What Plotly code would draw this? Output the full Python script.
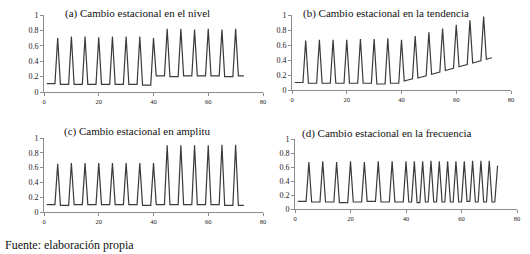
import plotly.graph_objects as go

t = list(range(1, 74))

nivel = [0.11, 0.11, 0.11, 0.11, 0.70,
         0.10, 0.10, 0.10, 0.10, 0.72,
         0.10, 0.10, 0.10, 0.10, 0.72,
         0.10, 0.10, 0.10, 0.10, 0.71,
         0.10, 0.10, 0.10, 0.10, 0.72,
         0.10, 0.10, 0.10, 0.10, 0.72,
         0.10, 0.10, 0.10, 0.10, 0.72,
         0.09, 0.09, 0.09, 0.09, 0.70,
         0.21, 0.21, 0.21, 0.21, 0.82,
         0.20, 0.20, 0.20, 0.20, 0.82,
         0.21, 0.21, 0.21, 0.21, 0.81,
         0.21, 0.21, 0.21, 0.21, 0.82,
         0.21, 0.21, 0.21, 0.21, 0.81,
         0.20, 0.20, 0.20, 0.20, 0.82,
         0.21, 0.21, 0.21]

tendencia = [0.10, 0.10, 0.10, 0.10, 0.66,
             0.09, 0.09, 0.09, 0.09, 0.67,
             0.09, 0.09, 0.09, 0.09, 0.67,
             0.09, 0.09, 0.09, 0.09, 0.67,
             0.09, 0.09, 0.09, 0.09, 0.68,
             0.09, 0.09, 0.09, 0.09, 0.68,
             0.08, 0.08, 0.08, 0.08, 0.69,
             0.09, 0.09, 0.09, 0.09, 0.67,
             0.12, 0.13, 0.14, 0.15, 0.72,
             0.16, 0.17, 0.18, 0.19, 0.77,
             0.21, 0.22, 0.23, 0.24, 0.82,
             0.26, 0.27, 0.28, 0.29, 0.87,
             0.31, 0.32, 0.33, 0.34, 0.93,
             0.36, 0.37, 0.38, 0.39, 0.98,
             0.41, 0.42, 0.43]

amplitud = [0.10, 0.10, 0.10, 0.10, 0.65,
            0.09, 0.09, 0.09, 0.09, 0.66,
            0.10, 0.10, 0.10, 0.10, 0.66,
            0.10, 0.10, 0.10, 0.10, 0.66,
            0.10, 0.10, 0.10, 0.10, 0.66,
            0.10, 0.10, 0.10, 0.10, 0.66,
            0.10, 0.10, 0.10, 0.10, 0.66,
            0.09, 0.09, 0.09, 0.09, 0.66,
            0.10, 0.10, 0.10, 0.10, 0.90,
            0.10, 0.10, 0.10, 0.10, 0.90,
            0.10, 0.10, 0.10, 0.10, 0.90,
            0.10, 0.10, 0.10, 0.10, 0.90,
            0.10, 0.10, 0.10, 0.10, 0.91,
            0.09, 0.09, 0.09, 0.09, 0.91,
            0.09, 0.09, 0.09]

frecuencia = [0.11, 0.11, 0.11, 0.11, 0.67,
              0.10, 0.10, 0.10, 0.10, 0.68,
              0.10, 0.10, 0.10, 0.10, 0.67,
              0.09, 0.09, 0.09, 0.09, 0.68,
              0.10, 0.10, 0.10, 0.10, 0.67,
              0.11, 0.11, 0.11, 0.11, 0.68,
              0.10, 0.10, 0.10, 0.10, 0.68,
              0.10, 0.10, 0.10, 0.10, 0.68,
              0.10, 0.10, 0.68,
              0.09, 0.09, 0.68,
              0.10, 0.10, 0.69,
              0.10, 0.10, 0.68,
              0.10, 0.10, 0.68,
              0.10, 0.10, 0.68,
              0.10, 0.10, 0.68,
              0.11, 0.11, 0.69,
              0.10, 0.10, 0.69,
              0.10, 0.10, 0.69,
              0.10, 0.10, 0.62]

titles = ["(a) Cambio estacional en el nivel",
          "(b) Cambio estacional en la tendencia",
          "(c) Cambio estacional en amplitu",
          "(d) Cambio estacional en la frecuencia"]
series = [nivel, tendencia, amplitud, frecuencia]

x_ticks = [0, 20, 40, 60, 80]
y_ticks = [0, 0.2, 0.4, 0.6, 0.8, 1]
y_tick_text = ["0", "0.2", "0.4", "0.6", "0.8", "1"]

W, H = 530, 254
# panel pixel boxes: (x0, x1, y_top, y_bottom)
boxes = [(44, 263, 15, 92), (292, 511, 15, 90),
         (44, 263, 138, 212), (295, 517, 139, 209)]
title_pos = [(137, 13), (386, 13), (137, 131), (387, 133)]

SERIF = "Liberation Serif, DejaVu Serif, serif"
fig = go.Figure()
layout = {}
for i, (ys, box) in enumerate(zip(series, boxes)):
    n = "" if i == 0 else str(i + 1)
    fig.add_trace(go.Scatter(x=t, y=ys, mode="lines",
                             line=dict(color="#3a3a3a", width=1.2),
                             xaxis="x" + n, yaxis="y" + n, showlegend=False))
    x0, x1, yt, yb = box
    layout["xaxis" + n] = dict(domain=[x0 / W, x1 / W], range=[0, 80],
                               anchor="y" + n, tickvals=x_ticks, showgrid=False,
                               zeroline=False, showline=True, linecolor="#8c8c8c",
                               linewidth=1, ticks="outside", ticklen=3,
                               tickcolor="#8c8c8c",
                               tickfont=dict(family=SERIF, size=6.5, color="#222"))
    layout["yaxis" + n] = dict(domain=[(H - yb) / H, (H - yt) / H], range=[0, 1],
                               anchor="x" + n, tickvals=y_ticks, ticktext=y_tick_text,
                               showgrid=False, zeroline=False, showline=True,
                               linecolor="#8c8c8c", linewidth=1, ticks="outside",
                               ticklen=3, tickcolor="#8c8c8c",
                               tickfont=dict(family=SERIF, size=8, color="#222"))

annotations = []
for title, (cx, cy) in zip(titles, title_pos):
    annotations.append(dict(text=title, x=cx / W, y=(H - cy) / H, xref="paper",
                            yref="paper", xanchor="center", yanchor="middle",
                            showarrow=False,
                            font=dict(family=SERIF, size=11, color="#111")))
annotations.append(dict(text="Fuente: elaboración propia", x=3 / W, y=(H - 245) / H,
                        xref="paper", yref="paper", xanchor="left", yanchor="middle",
                        showarrow=False, font=dict(family=SERIF, size=12, color="#111")))

fig.update_layout(width=W, height=H, margin=dict(l=0, r=0, t=0, b=0, autoexpand=False),
                  paper_bgcolor="white", plot_bgcolor="white",
                  annotations=annotations, **layout)
fig.write_html("out.html", config={"displayModeBar": False, "staticPlot": True},
               post_script="document.body.style.margin='0';document.body.style.padding='0';")
